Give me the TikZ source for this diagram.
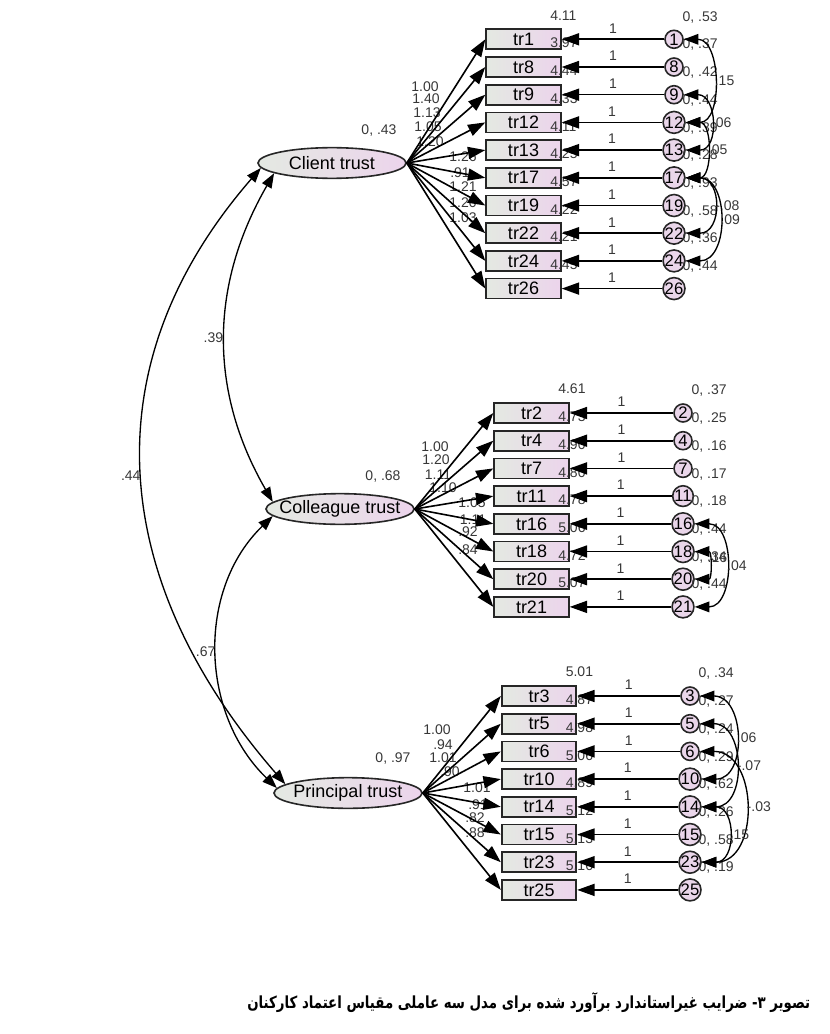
\documentclass[tikz,border=0pt]{standalone}
\usepackage{fontspec}
\setmainfont{Liberation Sans}
\newfontfamily\arabicfont[Script=Arabic]{DejaVu Sans}
\TeXXeTstate=1
\usetikzlibrary{arrows.meta,shapes.geometric}
\definecolor{boxL}{RGB}{228,233,226}
\definecolor{boxR}{RGB}{236,212,236}
\definecolor{errfill}{RGB}{234,214,234}
\definecolor{lbltext}{RGB}{55,55,55}

\begin{document}
\begin{tikzpicture}[x=0.75pt,y=0.75pt,
  obs/.style={draw=black!85, line width=1.3pt, minimum width=56pt, minimum height=15pt, inner sep=0pt,
              left color=boxL, right color=boxR, font=\fontsize{13.5}{14}\selectfont},
  lat/.style={ellipse, draw=black!85, line width=1.2pt, minimum width=111pt, minimum height=23pt,
              inner xsep=-12pt, inner ysep=0pt, left color=boxL, right color=boxR, font=\fontsize{13.5}{14}\selectfont},
  err/.style={circle, draw=black!85, line width=1.2pt, minimum size=13.5pt, inner sep=0pt, fill=errfill,
              font=\fontsize{12.5}{13}\selectfont},
  lbl/.style={text=lbltext, inner sep=1pt, font=\fontsize{10.5}{11}\selectfont},
  path/.style={-{Triangle[length=13pt,width=9pt]}, line width=1.2pt},
  cov/.style={{Triangle[length=11pt,width=8pt]}-{Triangle[length=11pt,width=8pt]}, line width=1pt}
]
\useasboundingbox (0,0) rectangle (830,-1034);

% latent factors
\node[lat] (client) at (332,-163) {Client trust};
\node[lat] (colleague) at (340,-509) {Colleague trust};
\node[lat] (principal) at (348,-793) {Principal trust};
\node[lbl] (vc) at (379,-131) {0, .43};
\node[lbl] (vg) at (383,-477) {0, .68};
\node[lbl] (vp) at (393,-758) {0, .97};

% client items
\node[obs] (tr1) at (523.5,-39.3) {tr1};     \node[err] (e1) at (674,-39.3) {1};
\node[obs] (tr8) at (523.5,-67.0) {tr8};     \node[err] (e8) at (674,-67.0) {8};
\node[obs] (tr9) at (523.5,-94.7) {tr9};     \node[err] (e9) at (674,-94.7) {9};
\node[obs] (tr12) at (523.5,-122.4) {tr12};  \node[err] (e12) at (674,-122.4) {12};
\node[obs] (tr13) at (523.5,-150.1) {tr13};  \node[err] (e13) at (674,-150.1) {13};
\node[obs] (tr17) at (523.5,-177.8) {tr17};  \node[err] (e17) at (674,-177.8) {17};
\node[obs] (tr19) at (523.5,-205.5) {tr19};  \node[err] (e19) at (674,-205.5) {19};
\node[obs] (tr22) at (523.5,-233.2) {tr22};  \node[err] (e22) at (674,-233.2) {22};
\node[obs] (tr24) at (523.5,-260.9) {tr24};  \node[err] (e24) at (674,-260.9) {24};
\node[obs] (tr26) at (523.5,-288.6) {tr26};  \node[err] (e26) at (674,-288.6) {26};

% colleague items
\node[obs] (tr2) at (531.5,-413.0) {tr2};    \node[err] (e2) at (683,-413.0) {2};
\node[obs] (tr4) at (531.5,-440.7) {tr4};    \node[err] (e4) at (683,-440.7) {4};
\node[obs] (tr7) at (531.5,-468.4) {tr7};    \node[err] (e7) at (683,-468.4) {7};
\node[obs] (tr11) at (531.5,-496.1) {tr11};  \node[err] (e11) at (683,-496.1) {11};
\node[obs] (tr16) at (531.5,-523.8) {tr16};  \node[err] (e16) at (683,-523.8) {16};
\node[obs] (tr18) at (531.5,-551.5) {tr18};  \node[err] (e18) at (683,-551.5) {18};
\node[obs] (tr20) at (531.5,-579.2) {tr20};  \node[err] (e20) at (683,-579.2) {20};
\node[obs] (tr21) at (531.5,-606.9) {tr21};  \node[err] (e21) at (683,-606.9) {21};

% principal items
\node[obs] (tr3) at (539,-696.0) {tr3};      \node[err] (e3) at (690,-696.0) {3};
\node[obs] (tr5) at (539,-723.7) {tr5};      \node[err] (e5) at (690,-723.7) {5};
\node[obs] (tr6) at (539,-751.4) {tr6};      \node[err] (e6) at (690,-751.4) {6};
\node[obs] (tr10) at (539,-779.1) {tr10};    \node[err] (e10) at (690,-779.1) {10};
\node[obs] (tr14) at (539,-806.8) {tr14};    \node[err] (e14) at (690,-806.8) {14};
\node[obs] (tr15) at (539,-834.5) {tr15};    \node[err] (e15) at (690,-834.5) {15};
\node[obs] (tr23) at (539,-862.2) {tr23};    \node[err] (e23) at (690,-862.2) {23};
\node[obs] (tr25) at (539,-889.9) {tr25};    \node[err] (e25) at (690,-889.9) {25};

% intercepts
\node[lbl,anchor=west] (m1) at ([xshift=-9.75pt,yshift=9.75pt]tr1.north east) {4.11};
\node[lbl,anchor=west] (m8) at ([xshift=-9.75pt,yshift=9.75pt]tr8.north east) {3.97};
\node[lbl,anchor=west] (m9) at ([xshift=-9.75pt,yshift=9.75pt]tr9.north east) {4.44};
\node[lbl,anchor=west] (m12) at ([xshift=-9.75pt,yshift=9.75pt]tr12.north east) {4.33};
\node[lbl,anchor=west] (m13) at ([xshift=-9.75pt,yshift=9.75pt]tr13.north east) {4.11};
\node[lbl,anchor=west] (m17) at ([xshift=-9.75pt,yshift=9.75pt]tr17.north east) {4.25};
\node[lbl,anchor=west] (m19) at ([xshift=-9.75pt,yshift=9.75pt]tr19.north east) {4.57};
\node[lbl,anchor=west] (m22) at ([xshift=-9.75pt,yshift=9.75pt]tr22.north east) {4.22};
\node[lbl,anchor=west] (m24) at ([xshift=-9.75pt,yshift=9.75pt]tr24.north east) {4.21};
\node[lbl,anchor=west] (m26) at ([xshift=-9.75pt,yshift=9.75pt]tr26.north east) {4.45};
\node[lbl,anchor=west] (m2) at ([xshift=-9.75pt,yshift=9.75pt]tr2.north east) {4.61};
\node[lbl,anchor=west] (m4) at ([xshift=-9.75pt,yshift=9.75pt]tr4.north east) {4.73};
\node[lbl,anchor=west] (m7) at ([xshift=-9.75pt,yshift=9.75pt]tr7.north east) {4.90};
\node[lbl,anchor=west] (m11) at ([xshift=-9.75pt,yshift=9.75pt]tr11.north east) {4.80};
\node[lbl,anchor=west] (m16) at ([xshift=-9.75pt,yshift=9.75pt]tr16.north east) {4.78};
\node[lbl,anchor=west] (m18) at ([xshift=-9.75pt,yshift=9.75pt]tr18.north east) {5.06};
\node[lbl,anchor=west] (m20) at ([xshift=-9.75pt,yshift=9.75pt]tr20.north east) {4.72};
\node[lbl,anchor=west] (m21) at ([xshift=-9.75pt,yshift=9.75pt]tr21.north east) {5.07};
\node[lbl,anchor=west] (m3) at ([xshift=-9.75pt,yshift=9.75pt]tr3.north east) {5.01};
\node[lbl,anchor=west] (m5) at ([xshift=-9.75pt,yshift=9.75pt]tr5.north east) {4.87};
\node[lbl,anchor=west] (m6) at ([xshift=-9.75pt,yshift=9.75pt]tr6.north east) {4.98};
\node[lbl,anchor=west] (m10) at ([xshift=-9.75pt,yshift=9.75pt]tr10.north east) {5.06};
\node[lbl,anchor=west] (m14) at ([xshift=-9.75pt,yshift=9.75pt]tr14.north east) {4.89};
\node[lbl,anchor=west] (m15) at ([xshift=-9.75pt,yshift=9.75pt]tr15.north east) {5.12};
\node[lbl,anchor=west] (m23) at ([xshift=-9.75pt,yshift=9.75pt]tr23.north east) {5.13};
\node[lbl,anchor=west] (m25) at ([xshift=-9.75pt,yshift=9.75pt]tr25.north east) {5.16};

% error variances
\node[lbl,anchor=west] (v1) at ([xshift=5.25pt,yshift=16.5pt]e1.center) {0, .53};
\node[lbl,anchor=west] (v8) at ([xshift=5.25pt,yshift=16.5pt]e8.center) {0, .37};
\node[lbl,anchor=west] (v9) at ([xshift=5.25pt,yshift=16.5pt]e9.center) {0, .42};
\node[lbl,anchor=west] (v12) at ([xshift=5.25pt,yshift=16.5pt]e12.center) {0, .44};
\node[lbl,anchor=west] (v13) at ([xshift=5.25pt,yshift=16.5pt]e13.center) {0, .39};
\node[lbl,anchor=west] (v17) at ([xshift=5.25pt,yshift=16.5pt]e17.center) {0, .28};
\node[lbl,anchor=west] (v19) at ([xshift=5.25pt,yshift=16.5pt]e19.center) {0, .93};
\node[lbl,anchor=west] (v22) at ([xshift=5.25pt,yshift=16.5pt]e22.center) {0, .58};
\node[lbl,anchor=west] (v24) at ([xshift=5.25pt,yshift=16.5pt]e24.center) {0, .36};
\node[lbl,anchor=west] (v26) at ([xshift=5.25pt,yshift=16.5pt]e26.center) {0, .44};
\node[lbl,anchor=west] (v2) at ([xshift=5.25pt,yshift=16.5pt]e2.center) {0, .37};
\node[lbl,anchor=west] (v4) at ([xshift=5.25pt,yshift=16.5pt]e4.center) {0, .25};
\node[lbl,anchor=west] (v7) at ([xshift=5.25pt,yshift=16.5pt]e7.center) {0, .16};
\node[lbl,anchor=west] (v11) at ([xshift=5.25pt,yshift=16.5pt]e11.center) {0, .17};
\node[lbl,anchor=west] (v16) at ([xshift=5.25pt,yshift=16.5pt]e16.center) {0, .18};
\node[lbl,anchor=west] (v18) at ([xshift=5.25pt,yshift=16.5pt]e18.center) {0, .44};
\node[lbl,anchor=west] (v20) at ([xshift=5.25pt,yshift=16.5pt]e20.center) {0, .34};
\node[lbl,anchor=west] (v21) at ([xshift=5.25pt,yshift=16.5pt]e21.center) {0, .44};
\node[lbl,anchor=west] (v3) at ([xshift=5.25pt,yshift=16.5pt]e3.center) {0, .34};
\node[lbl,anchor=west] (v5) at ([xshift=5.25pt,yshift=16.5pt]e5.center) {0, .27};
\node[lbl,anchor=west] (v6) at ([xshift=5.25pt,yshift=16.5pt]e6.center) {0, .24};
\node[lbl,anchor=west] (v10) at ([xshift=5.25pt,yshift=16.5pt]e10.center) {0, .29};
\node[lbl,anchor=west] (v14) at ([xshift=5.25pt,yshift=16.5pt]e14.center) {0, .62};
\node[lbl,anchor=west] (v15) at ([xshift=5.25pt,yshift=16.5pt]e15.center) {0, .26};
\node[lbl,anchor=west] (v23) at ([xshift=5.25pt,yshift=16.5pt]e23.center) {0, .58};
\node[lbl,anchor=west] (v25) at ([xshift=5.25pt,yshift=16.5pt]e25.center) {0, .19};

% loadings
\node[lbl] (w1) at (425,-87) {1.00};
\node[lbl] (w8) at (426,-99) {1.40};
\node[lbl] (w9) at (427,-113) {1.13};
\node[lbl] (w12) at (428,-127) {1.05};
\node[lbl] (w13) at (430,-142) {1.20};
\node[lbl] (w17) at (463,-157) {1.26};
\node[lbl] (w19) at (460,-173) {.91};
\node[lbl] (w22) at (463,-187) {1.21};
\node[lbl] (w24) at (463,-203) {1.20};
\node[lbl] (w26) at (463,-218) {1.03};
\node[lbl] (w2) at (435,-447) {1.00};
\node[lbl] (w4) at (436,-460) {1.20};
\node[lbl] (w7) at (438,-475) {1.11};
\node[lbl] (w11) at (443,-488) {1.10};
\node[lbl] (w16) at (472,-503) {1.05};
\node[lbl] (w18) at (473,-520) {1.11};
\node[lbl] (w20) at (468,-532) {.92};
\node[lbl] (w21) at (468,-550) {.84};
\node[lbl] (w3) at (437,-730) {1.00};
\node[lbl] (w5) at (443,-745) {.94};
\node[lbl] (w6) at (443,-758) {1.01};
\node[lbl] (w10) at (450,-772) {.90};
\node[lbl] (w14) at (477,-788) {1.01};
\node[lbl] (w15) at (478,-805) {.91};
\node[lbl] (w23) at (475,-818) {.82};
\node[lbl] (w25) at (475,-833) {.88};

% factor paths
\draw[path] (client.east) -- (tr1.west);
\draw[path] (client.east) -- (tr8.west);
\draw[path] (client.east) -- (tr9.west);
\draw[path] (client.east) -- (tr12.west);
\draw[path] (client.east) -- (tr13.west);
\draw[path] (client.east) -- (tr17.west);
\draw[path] (client.east) -- (tr19.west);
\draw[path] (client.east) -- (tr22.west);
\draw[path] (client.east) -- (tr24.west);
\draw[path] (client.east) -- (tr26.west);
\draw[path] (colleague.east) -- (tr2.west);
\draw[path] (colleague.east) -- (tr4.west);
\draw[path] (colleague.east) -- (tr7.west);
\draw[path] (colleague.east) -- (tr11.west);
\draw[path] (colleague.east) -- (tr16.west);
\draw[path] (colleague.east) -- (tr18.west);
\draw[path] (colleague.east) -- (tr20.west);
\draw[path] (colleague.east) -- (tr21.west);
\draw[path] (principal.east) -- (tr3.west);
\draw[path] (principal.east) -- (tr5.west);
\draw[path] (principal.east) -- (tr6.west);
\draw[path] (principal.east) -- (tr10.west);
\draw[path] (principal.east) -- (tr14.west);
\draw[path] (principal.east) -- (tr15.west);
\draw[path] (principal.east) -- (tr23.west);
\draw[path] (principal.east) -- (tr25.west);

% error paths
\draw[path] (e1) -- node[lbl,above=3pt] (o1) {1} (tr1);
\draw[path] (e8) -- node[lbl,above=3pt] (o8) {1} (tr8);
\draw[path] (e9) -- node[lbl,above=3pt] (o9) {1} (tr9);
\draw[path] (e12) -- node[lbl,above=3pt] (o12) {1} (tr12);
\draw[path] (e13) -- node[lbl,above=3pt] (o13) {1} (tr13);
\draw[path] (e17) -- node[lbl,above=3pt] (o17) {1} (tr17);
\draw[path] (e19) -- node[lbl,above=3pt] (o19) {1} (tr19);
\draw[path] (e22) -- node[lbl,above=3pt] (o22) {1} (tr22);
\draw[path] (e24) -- node[lbl,above=3pt] (o24) {1} (tr24);
\draw[path] (e26) -- node[lbl,above=3pt] (o26) {1} (tr26);
\draw[path] (e2) -- node[lbl,above=3pt] (o2) {1} (tr2);
\draw[path] (e4) -- node[lbl,above=3pt] (o4) {1} (tr4);
\draw[path] (e7) -- node[lbl,above=3pt] (o7) {1} (tr7);
\draw[path] (e11) -- node[lbl,above=3pt] (o11) {1} (tr11);
\draw[path] (e16) -- node[lbl,above=3pt] (o16) {1} (tr16);
\draw[path] (e18) -- node[lbl,above=3pt] (o18) {1} (tr18);
\draw[path] (e20) -- node[lbl,above=3pt] (o20) {1} (tr20);
\draw[path] (e21) -- node[lbl,above=3pt] (o21) {1} (tr21);
\draw[path] (e3) -- node[lbl,above=3pt] (o3) {1} (tr3);
\draw[path] (e5) -- node[lbl,above=3pt] (o5) {1} (tr5);
\draw[path] (e6) -- node[lbl,above=3pt] (o6) {1} (tr6);
\draw[path] (e10) -- node[lbl,above=3pt] (o10) {1} (tr10);
\draw[path] (e14) -- node[lbl,above=3pt] (o14) {1} (tr14);
\draw[path] (e15) -- node[lbl,above=3pt] (o15) {1} (tr15);
\draw[path] (e23) -- node[lbl,above=3pt] (o23) {1} (tr23);
\draw[path] (e25) -- node[lbl,above=3pt] (o25) {1} (tr25);

% error covariances
\draw[cov] (e1.east) to[out=0,in=0,looseness=1.15] node[lbl,right] (k1) {.15} (e12.east);
\draw[cov] (e9.east) to[out=0,in=0,looseness=1.55] node[lbl,right] (k2) {.06} (e13.east);
\draw[cov] (e12.east) to[out=0,in=0,looseness=1.25] node[lbl,right] (k3) {.05} (e17.east);
\draw[cov] (e17.east) to[out=0,in=0,looseness=1.7] node[lbl,right] (k4) {-.08} (e22.east);
\draw[cov] (e17.east) to[out=0,in=0,looseness=1.35] node[lbl,right] (k5) {.09} (e24.east);
\draw[cov] (e16.east) to[out=0,in=0,looseness=1.25] node[lbl,right] (k6) {.04} (e21.east);
\draw[cov] (e18.east) to[out=0,in=0,looseness=1.6] node[lbl,right,pos=0.3] (k7) {.16} (e20.east);
\draw[cov] (e3.east) to[out=0,in=0,looseness=1.4] node[lbl,right] (k8) {.06} (e10.east);
\draw[cov] (e5.east) to[out=0,in=0,looseness=1.4] node[lbl,right] (k9) {-.07} (e14.east);
\draw[cov] (e6.east) to[out=0,in=0,looseness=1.35] node[lbl,right] (k10) {-.03} (e23.east);
\draw[cov] (e14.east) to[out=0,in=0,looseness=1.6] node[lbl,right] (k11) {.15} (e23.east);

% factor covariances
\draw[cov] (client.190) to[out=240,in=120] node[lbl,left] (r1) {.39} (colleague.174);
\draw[cov] (client.184) to[out=229,in=131,looseness=1.1] node[lbl,left] (r2) {.44} (principal.172);
\draw[cov] (colleague.186) to[out=224,in=136] node[lbl,left] (r3) {.67} (principal.176);

% caption
\node[anchor=east, font=\arabicfont\bfseries\fontsize{12.5}{14}\selectfont] (cap) at (815,-1003)
  {\scalebox{0.8}[1]{\beginR تصویر ۳- ضرایب غیراستاندارد برآورد شده برای مدل سه عاملی مقیاس اعتماد کارکنان\endR}};
\end{tikzpicture}
\end{document}
